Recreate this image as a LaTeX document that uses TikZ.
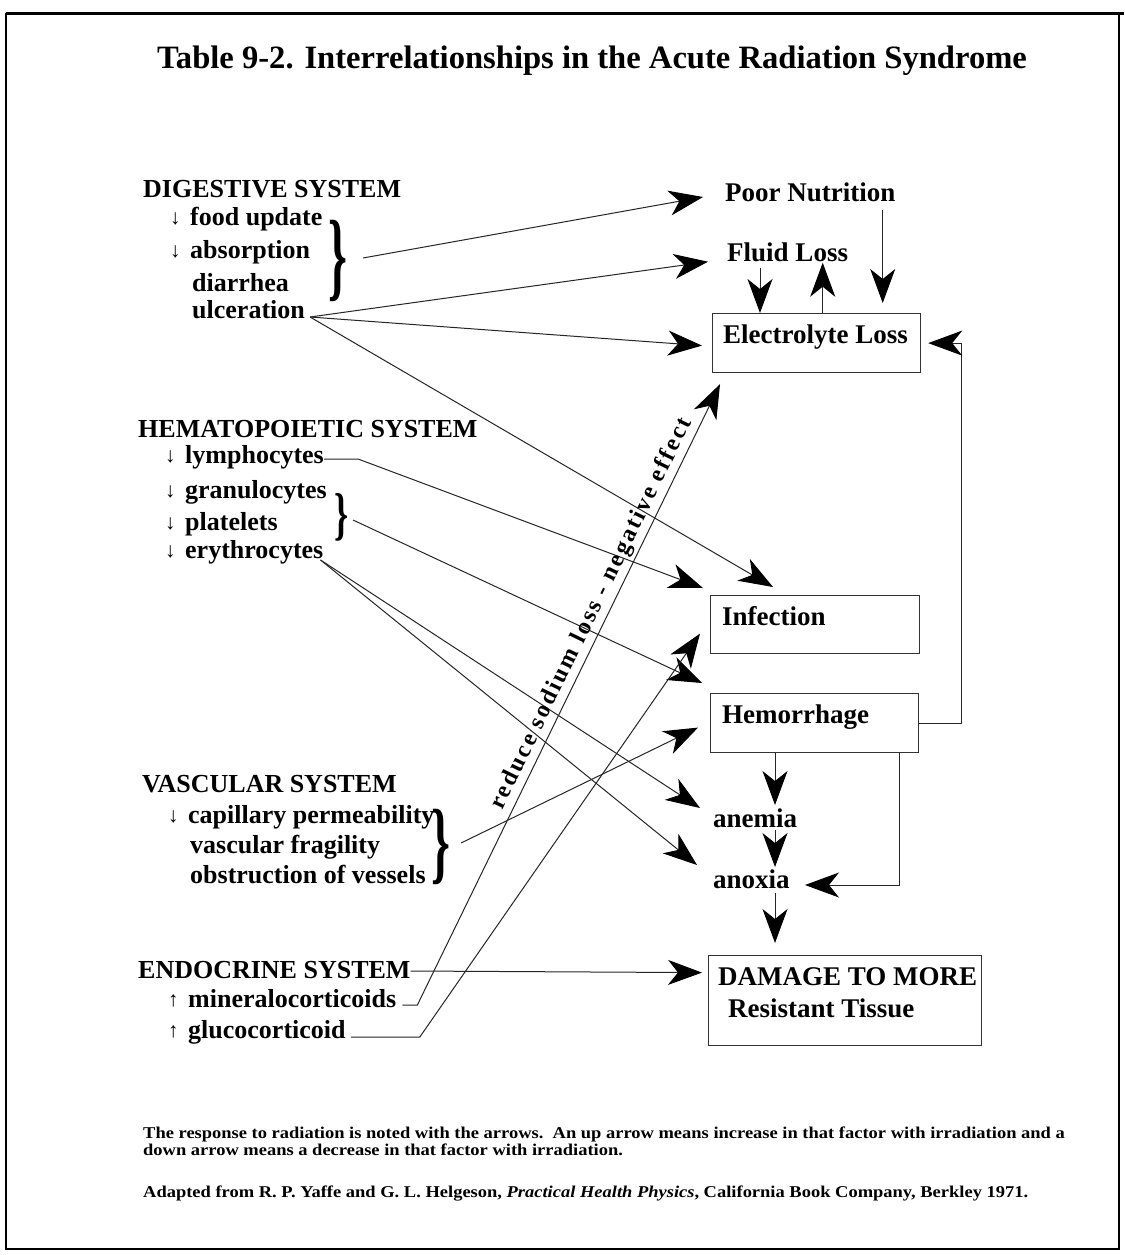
\documentclass[tikz,border=0pt]{standalone}
\usepackage{fontspec}
\setmainfont{Liberation Serif}
\usepackage{graphicx}
\usetikzlibrary{arrows.meta,calc}
\newfontface\spacedfont[LetterSpace=10]{Liberation Serif Bold}
% small thin arrows in front of the list entries
\newcommand\DnMark{\makebox[20pt][l]{\fontsize{21}{21}\mdseries\selectfont\raisebox{1pt}{↓}}}
\newcommand\UpMark{\makebox[20pt][l]{\fontsize{21}{21}\mdseries\selectfont\raisebox{1pt}{↑}}}
% tall curly brace built from the text glyph
\newcommand\TallBrace[2]{\scalebox{1}[#2]{\fontsize{#1}{#1}\selectfont\bfseries\}}}
% widened note lines
\newcommand\NoteLine[1]{\scalebox{1.12}[1]{#1}}
\begin{document}
\begin{tikzpicture}[x=1pt,y=-1pt,
  lbl/.style={font=\fontsize{26}{28}\selectfont\bfseries, inner sep=0pt, anchor=base west},
  rlbl/.style={font=\fontsize{27}{30}\selectfont\bfseries, inner sep=0pt, anchor=base west},
  box/.style={draw=black!80, line width=1.2pt, anchor=north west, inner sep=0pt},
  link/.style={line width=1pt, draw=black!85},
  arr/.style={link, -{Stealth[length=34pt,width=25pt,inset=10pt,color=black]}},
  note/.style={font=\fontsize{16.5}{18}\selectfont\bfseries, inner sep=0pt, anchor=base west},
  brc/.style={inner sep=0pt}
]
\useasboundingbox (0,0) rectangle (1124,1255);
\fill[white] (0,0) rectangle (1124,1255);
% page frame
\draw[line width=1.5pt] (6,14) rectangle (1119,1249);
\draw[line width=3pt] (6,14) -- (1124,14);

% title
\node[anchor=base west, inner sep=0pt, font=\fontsize{32.6}{36}\selectfont\bfseries] (title) at (157,68)
  {Table 9-2. Interrelationships in the Acute Radiation Syndrome};

% digestive system
\node[lbl] (dig) at (143,197) {DIGESTIVE SYSTEM};
\node[lbl] (food) at (170,225) {\DnMark food update};
\node[lbl] (abs) at (170,258) {\DnMark absorption};
\node[lbl] (diar) at (192,291.7) {diarrhea};
\node[lbl] (ulc) at (192,318) {ulceration};
\node[brc] (digbrace) at (338,261) {\TallBrace{48}{2.05}};

% hematopoietic system
\node[lbl] (hem) at (138,437) {HEMATOPOIETIC SYSTEM};
\node[lbl] (lym) at (165,463) {\DnMark lymphocytes};
\node[lbl] (gran) at (165,498) {\DnMark granulocytes};
\node[lbl] (plat) at (165,530) {\DnMark platelets};
\node[lbl] (ery) at (165,558) {\DnMark erythrocytes};
\node[brc] (hembrace) at (342,517) {\TallBrace{36}{1.6}};

% vascular system
\node[lbl] (vas) at (142,792) {VASCULAR SYSTEM};
\node[lbl] (cap) at (168,823) {\DnMark capillary permeability};
\node[lbl] (frag) at (190,853) {vascular fragility};
\node[lbl] (obst) at (190,883) {obstruction of vessels};
\node[brc] (vasbrace) at (441,847) {\TallBrace{48}{1.9}};

% endocrine system
\node[lbl] (endo) at (138,978) {ENDOCRINE SYSTEM};
\node[lbl] (mineral) at (168,1007) {\UpMark mineralocorticoids};
\node[lbl] (gluco) at (168,1038) {\UpMark glucocorticoid};

% effects
\node[rlbl] (poor) at (725,201.7) {Poor Nutrition};
\node[rlbl] (fluid) at (727,261.7) {Fluid Loss};
\node[box, minimum width=208pt, minimum height=59pt] (elecbox) at (712,313) {};
\node[rlbl] (elec) at (723,343) {Electrolyte Loss};
\node[box, minimum width=209pt, minimum height=58pt] (infbox) at (710,595) {};
\node[rlbl] (inf) at (722,625) {Infection};
\node[box, minimum width=208pt, minimum height=59pt] (hembox) at (710,693) {};
\node[rlbl] (hemr) at (722,723) {Hemorrhage};
\node[rlbl] (anemia) at (713,827) {anemia};
\node[rlbl] (anoxia) at (713,888) {anoxia};
\node[box, minimum width=273pt, minimum height=90pt] (dmgbox) at (708,955) {};
\node[rlbl] (dmg1) at (718,985) {DAMAGE TO MORE};
\node[rlbl] (dmg2) at (728,1017) {Resistant Tissue};

% connectors from the digestive system
\draw[arr] ($(digbrace.center)+(25,-3)$) -- ($(poor.base west)+(-22,-4.7)$);
\draw[arr] ($(ulc.base east)+(5,-1)$) -- ($(fluid.base west)+(-19,0)$);
\draw[arr] ($(ulc.base east)+(5,-1)$) -- ($(elecbox.west)+(-10,2.5)$);
\draw[arr] ($(ulc.base east)+(5,-1)$) -- ($(infbox.north west)+(63,-8)$);

% connectors from the hematopoietic system
\draw[arr] ($(lym.base east)+(0,-4)$) -- ++(34,0) -- ($(infbox.north west)+(-7,-7)$);
\draw[arr] ($(hembrace.center)+(11,3)$) -- ($(hembox.north west)+(-8,-10)$);
\draw[arr] ($(ery.base east)+(-3,2)$) -- ($(anemia.base west)+(-13,-19)$);
\draw[arr] ($(ery.base east)+(-3,2)$) -- ($(anoxia.base west)+(-16,-23)$);

% connectors from the vascular and endocrine systems
\draw[arr] ($(vasbrace.center)+(20,-4)$) -- ($(hembox.west)+(-12,4.5)$);
\draw[arr] ($(endo.base east)+(0,-7)$) -- ($(dmgbox.west)+(-6,-28)$);
\draw[arr] ($(mineral.base east)+(6,-2)$) -- ++(15,0)
  -- node[pos=0.62, sloped, above=3pt, inner sep=0pt, font=\fontsize{24}{24}\spacedfont]
     {reduce sodium loss - negative effect}
  ($(elecbox.south west)+(8,11)$);
\draw[arr] ($(gluco.base east)+(5,-1)$) -- ++(69,0) -- ($(infbox.west)+(-10,9)$);

% links among the effects
\draw[arr] ($(fluid.base west)+(33,6)$) -- ($(elecbox.north west)+(48,0)$);
\draw[arr] ($(elecbox.north west)+(110.7,0)$) -- ($(fluid.base west)+(95.7,1)$);
\draw[arr] ($(poor.base west)+(157.7,8)$) -- ($(elecbox.north west)+(170.7,-10)$);
\draw[arr] (hembox.east) -- ++(42,0) |- ($(elecbox.east)+(7,0)$);
\draw[arr] ($(hembox.south west)+(65,0)$) -- ($(anemia.base west)+(62,-22)$);
\draw[arr] ($(anemia.base west)+(62,3)$) -- ($(anoxia.base west)+(62,-21)$);
\draw[arr] ($(anoxia.base west)+(62,5)$) -- ($(dmgbox.north west)+(67,-12)$);
\draw[arr] ($(hembox.south west)+(189,0)$) |- ($(anoxia.base west)+(92,-3)$);

% notes
\node[note] (n1) at (143,1138) {\NoteLine{The response to radiation is noted with the arrows.\ \ An up arrow means increase in that factor with irradiation and a}};
\node[note] (n2) at (143,1155) {\NoteLine{down arrow means a decrease in that factor with irradiation.}};
\node[note] (n3) at (143,1197) {\NoteLine{Adapted from R. P. Yaffe and G. L. Helgeson, \textit{Practical Health Physics}, California Book Company, Berkley 1971.}};
\end{tikzpicture}
\end{document}
